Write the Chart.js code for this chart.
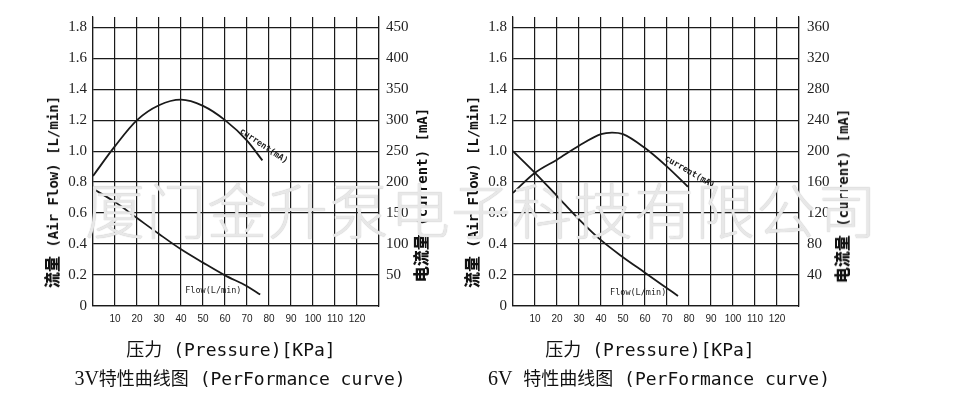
<!DOCTYPE html>
<html>
<head>
<meta charset="utf-8">
<script src="https://cdn.jsdelivr.net/npm/chart.js@4/dist/chart.umd.min.js"></script>
<style>
body{margin:0;background:#fff;}
#wrap{position:relative;width:960px;height:404px;overflow:hidden;background:#fff;}
canvas{position:absolute;top:0;}
.t{position:absolute;white-space:nowrap;color:#111;}
.v{transform:translate(-50%,-50%) rotate(-90deg);font-weight:bold;font-family:"DejaVu Sans Mono","Noto Sans CJK SC";font-size:14px;}
.v b{font-family:"Noto Sans CJK SC";font-size:16px;font-weight:900;}
.cap{transform:translate(-50%,-50%);font-family:"DejaVu Sans Mono","Noto Sans CJK SC";font-size:18px;}
.cap i{font-style:normal;font-family:"Liberation Serif";font-size:20px;}
#wm{position:absolute;left:85px;top:178px;z-index:5;pointer-events:none;white-space:nowrap;
  font-family:"Noto Sans CJK SC";font-weight:300;font-size:60px;line-height:60px;letter-spacing:1px;
  color:rgba(242,242,242,0.85);text-shadow:0 0 1px #aaa;}
</style>
</head>
<body>
<div id="wrap">
  <canvas id="c3" width="445" height="404" style="left:0"></canvas>
  <canvas id="c6" width="515" height="404" style="left:445px"></canvas>

  <div class="t v" style="left:51px;top:192px"><b>流量</b> (Air Flow) [L/min]</div>
  <div class="t v" style="left:420px;top:195px"><b>电流量</b> (current) [mA]</div>
  <div class="t cap" style="left:231px;top:348px">压力 (Pressure)[KPa]</div>
  <div class="t cap" style="left:240px;top:377px"><i>3V</i>特性曲线图 (PerFormance curve)</div>

  <div class="t v" style="left:471px;top:192px"><b>流量</b> (Air Flow) [L/min]</div>
  <div class="t v" style="left:841px;top:196px"><b>电流量</b> (current) [mA]</div>
  <div class="t cap" style="left:650px;top:348px">压力 (Pressure)[KPa]</div>
  <div class="t cap" style="left:659px;top:377px"><i>6V</i> 特性曲线图 (PerFormance curve)</div>

  <div id="wm">厦门金升泵电子科技有限公司</div>
</div>
<script>
// pressure axis ticks [KPa]
const pressureTicks = [10, 20, 30, 40, 50, 60, 70, 80, 90, 100, 110, 120];
// left axis ticks [L/min]
const flowTicks = [0, 0.2, 0.4, 0.6, 0.8, 1.0, 1.2, 1.4, 1.6, 1.8];
// right axis ticks [mA]
const cur3Ticks = [50, 100, 150, 200, 250, 300, 350, 400, 450];
const cur6Ticks = [40, 80, 120, 160, 200, 240, 280, 320, 360];

// 3V pump
const flow3x = [0, 10, 20, 30, 40, 50, 60, 70, 76];
const flow3 = [0.757, 0.671, 0.568, 0.465, 0.366, 0.28, 0.198, 0.128, 0.074];
const cur3x = [0, 10, 20, 30, 40, 50, 60, 70, 77];
const cur3 = [210, 258, 300, 324, 333, 323, 300, 267, 235];

// 6V pump
const flow6x = [0, 10, 20, 30, 40, 50, 60, 70, 75];
const flow6 = [1.0, 0.86, 0.71, 0.56, 0.425, 0.315, 0.215, 0.115, 0.065];
const cur6x = [0, 10, 20, 30, 40, 45, 50, 60, 70, 79.5];
const cur6 = [146, 172, 189, 207, 222, 224, 222, 204, 180, 154];

const ink = '#1a1a1a';
const flowTop = 1.866; // axis runs a bit above the 1.8 line

function pts(xs, ys) {
  return xs.map((x, i) => ({ x: x, y: ys[i] }));
}

function notes(items) {
  return {
    id: 'notes',
    afterDatasetsDraw(chart) {
      const ctx = chart.ctx;
      items.forEach(n => {
        const sy = chart.scales[n.axis];
        const px = chart.scales.x.getPixelForValue(n.x);
        const py = sy.getPixelForValue(n.y);
        ctx.save();
        ctx.translate(px, py);
        ctx.rotate(n.rot * Math.PI / 180);
        ctx.font = n.font;
        ctx.fillStyle = ink;
        ctx.textAlign = 'center';
        ctx.textBaseline = 'middle';
        ctx.fillText(n.text, 0, 0);
        ctx.restore();
      });
    }
  };
}

function makeChart(id, fx, fy, cx, cy, mAper, mAticks, box, rPad, items) {
  const line = {
    borderColor: ink, borderWidth: 1.8, pointRadius: 0, fill: false,
    tension: 0.4, cubicInterpolationMode: 'monotone'
  };
  return new Chart(document.getElementById(id), {
    type: 'line',
    data: {
      datasets: [
        Object.assign({ label: 'Flow(L/min)', data: pts(fx, fy), yAxisID: 'y' }, line),
        Object.assign({ label: 'current(mA)', data: pts(cx, cy), yAxisID: 'y1' }, line)
      ]
    },
    options: {
      responsive: false,
      animation: false,
      layout: { padding: { top: 17, left: 0, right: 0, bottom: 0 } },
      plugins: { legend: { display: false }, tooltip: { enabled: false } },
      scales: {
        x: {
          type: 'linear', min: 0, max: 130,
          grid: { color: ink, lineWidth: 1.2, drawTicks: false },
          border: { color: ink, width: 1.2 },
          ticks: {
            stepSize: 10, autoSkip: false, maxRotation: 0, padding: 7,
            color: '#222', font: { family: 'Liberation Sans', size: 10 },
            callback: v => pressureTicks.includes(v) ? v : ''
          },
          afterFit: s => { s.height = 98; }
        },
        y: {
          position: 'left', min: 0, max: flowTop,
          grid: { color: ink, lineWidth: 1.2, drawTicks: false },
          border: { color: ink, width: 1.2 },
          ticks: {
            padding: 6, color: '#222', autoSkip: false,
            font: { family: 'Liberation Serif', size: 15 },
            callback: v => v === 0 ? '0' : v.toFixed(1)
          },
          afterBuildTicks: s => { s.ticks = flowTicks.map(v => ({ value: v })); },
          afterFit: s => { s.width = box.left; }
        },
        y1: {
          position: 'right', min: 0, max: flowTop * mAper,
          grid: { display: false, drawTicks: false },
          border: { color: ink, width: 1.2 },
          ticks: {
            padding: rPad, color: '#222', autoSkip: false,
            font: { family: 'Liberation Serif', size: 15 }
          },
          afterBuildTicks: s => { s.ticks = mAticks.map(v => ({ value: v })); },
          afterFit: s => { s.width = box.right; }
        }
      }
    },
    plugins: [notes(items)]
  });
}

makeChart('c3', flow3x, flow3, cur3x, cur3, 250, cur3Ticks, { left: 93, right: 66 }, 7, [
  { text: 'current(mA)', x: 77.6, y: 258, axis: 'y1', rot: 34, font: 'bold 8.5px "DejaVu Sans Mono"' },
  { text: 'Flow(L/min)', x: 54.7, y: 0.097, axis: 'y', rot: 0, font: '8.5px "DejaVu Sans Mono"' }
]);

makeChart('c6', flow6x, flow6, cur6x, cur6, 200, cur6Ticks, { left: 68, right: 161 }, 8, [
  { text: 'current(mA)', x: 80.3, y: 173, axis: 'y1', rot: 30, font: 'bold 8.5px "DejaVu Sans Mono"' },
  { text: 'Flow(L/min)', x: 56.9, y: 0.084, axis: 'y', rot: 0, font: '8.5px "DejaVu Sans Mono"' }
]);
</script>
</body>
</html>
